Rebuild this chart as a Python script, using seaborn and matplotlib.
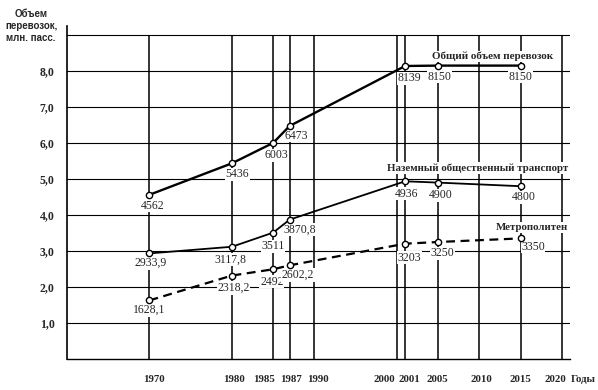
import matplotlib
matplotlib.use("Agg")
import matplotlib.pyplot as plt
import seaborn as sns

# data (values in mln passengers, axis in thousands of mln)
years = [1970, 1980, 1985, 1987, 2001, 2005, 2015]
total = [4562, 5436, 6003, 6473, 8139, 8150, 8150]
ground = [2933.9, 3117.8, 3511, 3870.8, 4936, 4900, 4800]
metro = [1628.1, 2318.2, 2492, 2602.2, 3203, 3250, 3350]

x_ticks = [1970, 1980, 1985, 1987, 1990, 2000, 2001, 2005, 2010, 2015, 2020]
y_ticks = [1, 2, 3, 4, 5, 6, 7, 8]

series_names = ["Общий объем перевозок", "Наземный общественный транспорт", "Метрополитен"]

sns.set_style("white")
plt.rcParams['font.family'] = ['Liberation Serif', 'DejaVu Serif']

fig = plt.figure(figsize=(5.98, 3.90), dpi=100)
ax = fig.add_axes([67 / 598, 31 / 390, 503 / 598, 333 / 390])

# grid
ax.vlines(x_ticks, 0, 9, color="black", lw=1.1, zorder=1)
for yv in range(1, 10):
    ax.axhline(yv, color="black", lw=0.8, zorder=1)

def fmt(v):
    if float(v).is_integer():
        return str(int(v))
    return f"{v:.1f}".replace(".", ",")

styles = ["-", "-", "--"]
widths = [1.7, 1.3, 1.6]
offsets = [
    [(2, -8), (4, -8), (2, -9), (5, -7), (3, -9), (1, -8), (0, -8)],
    [(1, -7), (-1, -9), (0, -10), (7, -7), (1, -9), (2, -9), (2, -8)],
    [(0, -7), (1, -9), (-1, -9), (6, -7), (3, -10), (3, -8), (9, -6)],
]

for vals, ls, lw, offs in zip([total, ground, metro], styles, widths, offsets):
    yv = [v / 1000 for v in vals]
    line_kw = dict(dashes=(4, 2.5)) if ls == "--" else {}
    sns.lineplot(x=years, y=yv, ax=ax, color="black", lw=lw,
                 marker="o", markersize=4.5, markerfacecolor="white",
                 markeredgecolor="black", markeredgewidth=1.0, zorder=3, **line_kw)
    for xx, yy, v, off in zip(years, yv, vals, offs):
        ax.annotate(fmt(v), (xx, yy), xytext=off, textcoords="offset points",
                    ha="center", va="center", fontsize=8.5, zorder=2.5,
                    bbox=dict(boxstyle="square,pad=0.05", fc="white", ec="none"))

# series labels
box = dict(boxstyle="square,pad=0.1", fc="white", ec="none")
ax.text(2018.9, 8.4, series_names[0], ha="right", va="center", fontsize=8,
        fontweight="bold", bbox=box)
ax.text(2020.8, 5.3, series_names[1], ha="right", va="center", fontsize=7.8,
        fontweight="bold", bbox=box)
ax.text(2020.8, 3.65, series_names[2], ha="right", va="center", fontsize=7.8,
        fontweight="bold", bbox=box)

ax.set_xlim(1960, 2021)
ax.set_ylim(0, 9.25)
ax.set_xticks(x_ticks)
ax.set_xticklabels([])
ax.set_yticks(y_ticks)
ax.set_yticklabels([f"{t},0" for t in y_ticks], fontsize=8.5, fontweight="bold")
ax.tick_params(axis="x", length=0)
ax.tick_params(axis="y", length=5, width=1, direction="out", pad=4, color="black")

# year labels under the axis, nudged like in the original
x_label_shift = {1970: (0.5, "center"), 1985: (0.2, "right"), 2000: (-0.2, "right"),
                 2001: (0.5, "center"), 1990: (0.4, "center"), 2005: (-0.1, "center"),
                 2015: (0.0, "center"), 2020: (0.6, "right")}
for t in x_ticks:
    dx, ha = x_label_shift.get(t, (0.2, "center"))
    ax.text(t + dx, -0.58, str(t), ha=ha, va="center", fontsize=7.8,
            fontweight="bold", clip_on=False)

for s in ["top", "right"]:
    ax.spines[s].set_visible(False)
ax.spines["left"].set_color("black")
ax.spines["left"].set_linewidth(1.2)
ax.spines["bottom"].set_color("black")
ax.spines["bottom"].set_linewidth(1.0)

fig.text(571 / 598, 1 - 380 / 390, "Годы", ha="left", va="center",
         fontsize=7.8, fontweight="bold")
fig.text(31 / 598, 1 - 26 / 390, "Объем\nперевозок,\nмлн. пасс.", ha="center",
         va="center", fontsize=7, fontweight="bold", linespacing=1.2,
         family=["Liberation Sans", "DejaVu Sans"])

fig.savefig("out.png", dpi=100)
